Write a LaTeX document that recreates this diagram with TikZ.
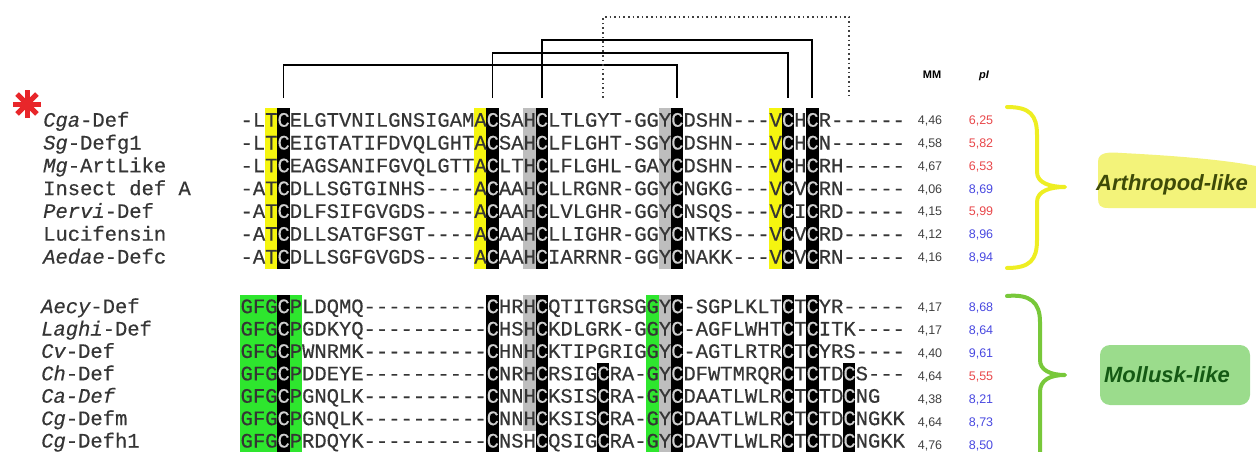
\documentclass[tikz,border=0pt]{standalone}
\usepackage{fontspec}
\setmainfont{Liberation Sans}
\setmonofont[FakeBold=0.4]{Liberation Mono}
\usetikzlibrary{positioning}

\definecolor{seqtext}{HTML}{353535}
\definecolor{cystext}{HTML}{CFCFCF}
\definecolor{hlyellow}{HTML}{F5F50F}
\definecolor{hlgreen}{HTML}{2EE62E}
\definecolor{hlgray}{HTML}{BEBEBE}
\definecolor{pired}{HTML}{E8474A}
\definecolor{piblue}{HTML}{4848E0}
\definecolor{braceyellow}{HTML}{EEEE22}
\definecolor{bracegreen}{HTML}{78C83A}
\definecolor{tagyellow}{HTML}{F3F37A}
\definecolor{taggreen}{HTML}{9BDC8C}
\definecolor{tagolive}{HTML}{3E4A08}
\definecolor{tagdark}{HTML}{145A14}
\definecolor{starred}{HTML}{E8262A}

\newcommand{\seqfont}{\ttfamily\fontsize{20.5}{24}\selectfont}
\newcommand{\cw}{12.3}
\newcommand{\xo}{240.4}
% cysteine on black
\newcommand{\K}{\textcolor{cystext}{C}}
% column box: colour, column, top, bottom
\newcommand{\colbox}[4]{\fill[#1] ({\xo+\cw*#2},#3) rectangle ({\xo+\cw*(#2+1)},#4);}

\begin{document}
\begin{tikzpicture}[x=1pt, y=-1pt,
    seq/.style={anchor=base west, inner sep=0pt, font=\seqfont, text=seqtext},
    seqname/.style={anchor=base west, inner sep=0pt, font=\seqfont, text=seqtext},
    valnode/.style={anchor=base, inner sep=0pt, font=\fontsize{12.5}{14}\selectfont, text=#1},
    headnode/.style={anchor=base, inner sep=0pt, font=\fontsize{11}{13}\selectfont\bfseries},
    bond/.style={line width=1.8pt, black},
    dotbond/.style={line width=1.6pt, black!75, dash pattern=on 1.6pt off 3pt},
    bracket/.style={line width=4pt, line cap=round, line join=round},
    tag/.style={font=\fontsize{22}{26}\selectfont\bfseries\itshape, inner sep=0pt}]
\useasboundingbox (0,0) rectangle (1256,452);

% arthropod columns
\foreach \c in {2,19,43} {\colbox{hlyellow}{\c}{108.2}{268.5}}
\foreach \c in {23,34} {\colbox{hlgray}{\c}{108.2}{268.5}}
\foreach \c in {3,20,24,35,44,46} {\colbox{black}{\c}{108.2}{268.5}}

% mollusk columns
\foreach \c in {0,1,2,4,33} {\colbox{hlgreen}{\c}{294.8}{452}}
\colbox{hlgray}{23}{294.8}{431}
\colbox{hlgray}{34}{294.8}{452}
\foreach \c in {3,20,24,35,44,46} {\colbox{black}{\c}{294.8}{452}}
\foreach \c in {29,49} {\colbox{black}{\c}{362.5}{452}}

% arthropod sequences
\foreach \s/\b [count=\r] in {
  -LT\K ELGTVNILGNSIGAMA\K SAH\K LTLGYT-GGY\K DSHN---V\K H\K R------/126.7,
  -LT\K EIGTATIFDVQLGHTA\K SAH\K LFLGHT-SGY\K DSHN---V\K H\K N------/149.5,
  -LT\K EAGSANIFGVQLGTTA\K LTH\K LFLGHL-GAY\K DSHN---V\K H\K RH-----/172.3,
  -AT\K DLLSGTGINHS----A\K AAH\K LLRGNR-GGY\K NGKG---V\K V\K RN-----/195.1,
  -AT\K DLFSIFGVGDS----A\K AAH\K LVLGHR-GGY\K NSQS---V\K I\K RD-----/217.9,
  -AT\K DLLSATGFSGT----A\K AAH\K LLIGHR-GGY\K NTKS---V\K V\K RD-----/240.7,
  -AT\K DLLSGFGVGDS----A\K AAH\K IARRNR-GGY\K NAKK---V\K V\K RN-----/263.5}
  \node[seq] (a\r) at (\xo,\b) {\s};

% mollusk sequences
\foreach \s/\b [count=\r] in {
  GFG\K PLDQMQ----------\K HRH\K QTITGRSGGY\K -SGPLKLT\K T\K YR-----/313.1,
  GFG\K PGDKYQ----------\K HSH\K KDLGRK-GGY\K -AGFLWHT\K T\K ITK----/335.5,
  GFG\K PWNRMK----------\K HNH\K KTIPGRIGGY\K -AGTLRTR\K T\K YRS----/357.9,
  GFG\K PDDEYE----------\K NRH\K RSIG\K RA-GY\K DFWTMRQR\K T\K TD\K S---/380.3,
  GFG\K PGNQLK----------\K NNH\K KSIS\K RA-GY\K DAATLWLR\K T\K TD\K NG/402.7,
  GFG\K PGNQLK----------\K NNH\K KSIS\K RA-GY\K DAATLWLR\K T\K TD\K NGKK/425.1,
  GFG\K PRDQYK----------\K NSH\K QSIG\K RA-GY\K DAVTLWLR\K T\K TD\K NGKK/447.5}
  \node[seq] (m\r) at (\xo,\b) {\s};

% names
\foreach \n/\b [count=\r] in {{\itshape Cga}-Def/126.7, {\itshape Sg}-Defg1/149.5,
    {\itshape Mg}-ArtLike/172.3, Insect def A/195.1, {\itshape Pervi}-Def/217.9,
    Lucifensin/240.7, {\itshape Aedae}-Defc/263.5}
  \node[seqname] (na\r) at (43,\b) {\n};
\foreach \n/\b [count=\r] in {{\itshape Aecy}-Def/313.1, {\itshape Laghi}-Def/335.5,
    {\itshape Cv}-Def/357.9, {\itshape Ch}-Def/380.3, {\itshape Ca-Def}/402.7,
    {\itshape Cg}-Defm/425.1, {\itshape Cg}-Defh1/447.5}
  \node[seqname] (nm\r) at (41,\b) {\n};

% red asterisk
\foreach \a in {0,45,90,135}
  \draw[starred, line width=5pt] (27,104) ++(\a:14) -- ++(\a+180:28);

% disulfide bonds
\foreach \c in {3,20,24,29,35,44,46,49}
  \coordinate (top\c) at ({\xo+\cw*(\c+0.5)},98);
\draw[bond] (top3) -- ++(0,-33) -| (top35);
\draw[bond] (top20) -- ++(0,-45) -| (top44);
\draw[bond] (top24) -- ++(0,-58) -| (top46);
\draw[dotbond] (top29) -- ++(0,-81) -| (top49);

% MM and pI
\node[headnode] (mmhead) at (932,79) {MM};
\node[headnode] (pihead) at (984,79) {\itshape pI};
\foreach \m/\p/\k/\b [count=\r] in {{4,46}/{6,25}/pired/124.7, {4,58}/{5,82}/pired/147.5,
    {4,67}/{6,53}/pired/170.3, {4,06}/{8,69}/piblue/193.1, {4,15}/{5,99}/pired/215.9,
    {4,12}/{8,96}/piblue/238.7, {4,16}/{8,94}/piblue/261.5,
    {4,17}/{8,68}/piblue/311.2, {4,17}/{8,64}/piblue/334.2, {4,40}/{9,61}/piblue/357.2,
    {4,64}/{5,55}/pired/380.2, {4,38}/{8,21}/piblue/403.2, {4,64}/{8,73}/piblue/426.2,
    {4,76}/{8,50}/piblue/449.2}
{
  \node[valnode=black!75] (mm\r) at (930,\b) {\m};
  \node[valnode=\k] (pi\r) at (981,\b) {\p};
}

% braces
\draw[bracket, braceyellow] (1007,107) .. controls (1030,107) and (1037,115) .. (1037,135)
  -- (1037,172) .. controls (1037,183) and (1050,187) .. (1065,187)
  .. controls (1050,187) and (1037,191) .. (1037,202)
  -- (1037,240) .. controls (1037,260) and (1030,268) .. (1007,268);
\draw[bracket, bracegreen] (1007,296) .. controls (1030,294) and (1040,302) .. (1040,322)
  -- (1040,360) .. controls (1040,370) and (1050,375) .. (1065,375)
  .. controls (1050,375) and (1040,380) .. (1040,392) -- (1040,456);

% group tags
\fill[tagyellow] (1098,162) .. controls (1098,152) and (1108,152) .. (1122,153)
  .. controls (1180,156) and (1225,160) .. (1256,166) -- (1256,208) -- (1108,208)
  .. controls (1100,208) and (1098,205) .. (1098,198) -- cycle;
\node[tag, text=tagolive] (arthro) at (1172,185) {Arthropod-like};
\fill[taggreen, rounded corners=10pt] (1100,345) rectangle (1250,405);
\node[tag, text=tagdark] (mollu) at (1167,375) {Mollusk-like};
\end{tikzpicture}
\end{document}
